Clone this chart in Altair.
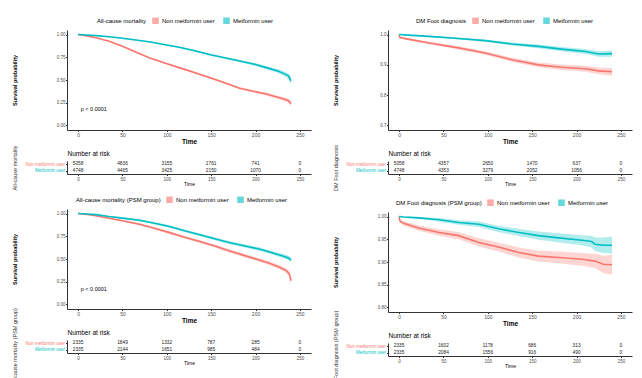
import altair as alt
import pandas as pd

GROUPS = ["Non metformin user", "Metformin user"]
COLORS = ["#F8766D", "#00BFC4"]
TICKS = [0, 50, 100, 150, 200, 250]
FONT = "Liberation Sans"
W = 244
H = 100
RH = 13
XDOM = [-12.5, 262.5]

# ---- All-cause mortality ----
ac_t = [0, 10, 20, 35, 50, 65, 80, 100, 114, 130, 148, 165, 182, 200, 212, 225, 232, 237, 240]
ac_non = [1.0, 0.985, 0.965, 0.927, 0.87, 0.807, 0.746, 0.68, 0.636, 0.585, 0.528, 0.47, 0.41, 0.37, 0.346, 0.31, 0.29, 0.273, 0.24]
ac_non_lo = [1.0, 0.982, 0.961, 0.922, 0.864, 0.800, 0.738, 0.671, 0.627, 0.575, 0.517, 0.458, 0.397, 0.356, 0.330, 0.292, 0.270, 0.250, 0.212]
ac_non_hi = [1.0, 0.988, 0.969, 0.932, 0.876, 0.814, 0.754, 0.689, 0.645, 0.595, 0.539, 0.482, 0.423, 0.384, 0.362, 0.328, 0.310, 0.296, 0.268]
ac_met = [1.0, 0.995, 0.988, 0.975, 0.96, 0.94, 0.92, 0.885, 0.86, 0.825, 0.78, 0.745, 0.71, 0.67, 0.636, 0.6, 0.57, 0.545, 0.49]
ac_met_lo = [1.0, 0.993, 0.985, 0.971, 0.955, 0.934, 0.913, 0.877, 0.851, 0.815, 0.769, 0.733, 0.697, 0.655, 0.619, 0.580, 0.545, 0.515, 0.445]
ac_met_hi = [1.0, 0.997, 0.991, 0.979, 0.965, 0.946, 0.927, 0.893, 0.869, 0.835, 0.791, 0.757, 0.723, 0.685, 0.653, 0.620, 0.595, 0.575, 0.535]
ac_risk_non = [5058, 4836, 3155, 1761, 741, 0]
ac_risk_met = [4748, 4465, 3425, 2150, 1070, 0]

# ---- DM Foot diagnosis ----
dm_t = [0, 1, 10, 34, 67, 97, 127, 157, 183, 210, 225, 240]
dm_non = [1.0, 0.99, 0.985, 0.972, 0.956, 0.939, 0.917, 0.90, 0.892, 0.887, 0.88, 0.877]
dm_non_lo = [1.0, 0.987, 0.982, 0.968, 0.951, 0.933, 0.910, 0.892, 0.883, 0.877, 0.869, 0.864]
dm_non_hi = [1.0, 0.993, 0.988, 0.976, 0.961, 0.945, 0.924, 0.908, 0.901, 0.897, 0.891, 0.890]
dm_met = [1.0, 1.0, 0.998, 0.994, 0.987, 0.98, 0.969, 0.961, 0.952, 0.944, 0.936, 0.937]
dm_met_lo = [1.0, 1.0, 0.997, 0.992, 0.984, 0.976, 0.964, 0.955, 0.945, 0.936, 0.927, 0.927]
dm_met_hi = [1.0, 1.0, 0.999, 0.996, 0.990, 0.984, 0.974, 0.967, 0.959, 0.952, 0.945, 0.947]
dm_risk_non = [5058, 4357, 2650, 1470, 637, 0]
dm_risk_met = [4748, 4353, 3279, 2052, 1056, 0]

# ---- All-cause mortality (PSM group) ----
acp_t = [0, 10, 20, 35, 50, 69, 85, 103, 120, 137, 155, 170, 187, 204, 215, 227, 235, 238, 240]
acp_non = [1.0, 0.99, 0.975, 0.949, 0.92, 0.883, 0.84, 0.79, 0.74, 0.693, 0.64, 0.59, 0.54, 0.489, 0.455, 0.41, 0.37, 0.336, 0.26]
acp_non_lo = [1.0, 0.986, 0.969, 0.941, 0.910, 0.871, 0.827, 0.776, 0.725, 0.677, 0.623, 0.572, 0.521, 0.469, 0.434, 0.387, 0.344, 0.306, 0.220]
acp_non_hi = [1.0, 0.994, 0.981, 0.957, 0.930, 0.895, 0.853, 0.804, 0.755, 0.709, 0.657, 0.608, 0.559, 0.509, 0.476, 0.433, 0.396, 0.366, 0.300]
acp_met = [1.0, 0.995, 0.988, 0.967, 0.95, 0.927, 0.895, 0.858, 0.81, 0.767, 0.72, 0.682, 0.645, 0.61, 0.58, 0.544, 0.52, 0.505, 0.489]
acp_met_lo = [1.0, 0.992, 0.983, 0.960, 0.941, 0.916, 0.883, 0.845, 0.796, 0.752, 0.704, 0.665, 0.627, 0.591, 0.560, 0.522, 0.496, 0.479, 0.460]
acp_met_hi = [1.0, 0.998, 0.993, 0.974, 0.959, 0.938, 0.907, 0.871, 0.824, 0.782, 0.736, 0.699, 0.663, 0.629, 0.600, 0.566, 0.544, 0.531, 0.518]
acp_risk_non = [2335, 1849, 1332, 787, 285, 0]
acp_risk_met = [2335, 2144, 1651, 985, 484, 0]

# ---- DM Foot diagnosis (PSM group) ----
dmp_t = [0, 1, 5, 22, 45, 67, 90, 112, 135, 157, 180, 206, 217, 221, 230, 240]
dmp_non = [1.0, 0.99, 0.985, 0.975, 0.965, 0.958, 0.943, 0.933, 0.921, 0.913, 0.91, 0.906, 0.903, 0.902, 0.895, 0.894]
dmp_non_lo = [1.0, 0.986, 0.980, 0.969, 0.958, 0.950, 0.934, 0.923, 0.910, 0.901, 0.897, 0.892, 0.888, 0.886, 0.876, 0.872]
dmp_non_hi = [1.0, 0.994, 0.990, 0.981, 0.972, 0.966, 0.952, 0.943, 0.932, 0.925, 0.923, 0.920, 0.918, 0.918, 0.914, 0.916]
dmp_met = [1.0, 1.0, 0.999, 0.997, 0.993, 0.987, 0.983, 0.973, 0.965, 0.958, 0.953, 0.948, 0.945, 0.939, 0.937, 0.937]
dmp_met_lo = [1.0, 1.0, 0.998, 0.995, 0.989, 0.982, 0.977, 0.966, 0.957, 0.949, 0.943, 0.937, 0.932, 0.924, 0.920, 0.918]
dmp_met_hi = [1.0, 1.0, 1.0, 0.999, 0.997, 0.992, 0.989, 0.980, 0.973, 0.967, 0.963, 0.959, 0.958, 0.954, 0.954, 0.956]
dmp_risk_non = [2335, 1602, 1178, 686, 313, 0]
dmp_risk_met = [2335, 2084, 1556, 916, 490, 0]

AXIS_DARK = "#333333"
LABEL_GRAY = "#4D4D4D"
XSCALE = alt.Scale(domain=XDOM, nice=False, zero=False)


def x_enc(small=False):
    return alt.X(
        "t:Q",
        scale=XSCALE,
        axis=alt.Axis(
            values=TICKS, title="Time",
            titleFontSize=5 if small else 6.5,
            titleFontWeight="normal" if small else "bold",
            titlePadding=1, labelFontSize=4.5 if small else 5,
            labelPadding=0.5, tickSize=1.5, labelFlush=False, labelOverlap=False,
        ),
    )


def y_axis(yvals, yfmt):
    return alt.Axis(
        values=yvals, format=yfmt, title="Survival probability",
        titleFontSize=5.5, titleFontWeight="bold", titlePadding=2,
        labelFontSize=4.5, labelPadding=0.5, tickSize=1.5,
        minExtent=48, maxExtent=48, labelOverlap=False, labelFlush=False,
    )


def make_legend(title, legend_x):
    return alt.Legend(
        title=title, orient="none", legendX=legend_x, legendY=-13,
        direction="horizontal", titleOrient="left", titleFontSize=6,
        titleFontWeight="normal", titleColor="#000000", titlePadding=5,
        labelFontSize=6, labelColor="#000000", symbolType="square",
        symbolSize=28, symbolStrokeWidth=1.2, symbolOpacity=0.6, columnPadding=6,
        labelOffset=3, padding=0,
    )


def surv_panel(title, t, non, non_lo, non_hi, met, met_lo, met_hi,
               ydom, yvals, yfmt, legend_x, pval_y=None):
    rows = []
    for g, s, lo, hi in ((GROUPS[0], non, non_lo, non_hi), (GROUPS[1], met, met_lo, met_hi)):
        for ti, si, li, hii in zip(t, s, lo, hi):
            rows.append({"group": g, "t": ti, "surv": si, "lo": li, "hi": hii})
    df = pd.DataFrame(rows)
    yscale = alt.Scale(domain=ydom, nice=False, zero=False)
    cscale = alt.Scale(domain=GROUPS, range=COLORS)
    leg = make_legend(title, legend_x)
    band = alt.Chart(df).mark_area(opacity=0.3, clip=True).encode(
        x=x_enc(),
        y=alt.Y("lo:Q", scale=yscale, axis=y_axis(yvals, yfmt)),
        y2="hi:Q",
        color=alt.Color("group:N", scale=cscale, legend=leg),
    )
    line = alt.Chart(df).mark_line(strokeWidth=1.6, clip=True).encode(
        x=x_enc(),
        y=alt.Y("surv:Q", scale=yscale, axis=y_axis(yvals, yfmt)),
        color=alt.Color("group:N", scale=cscale, legend=leg),
    )
    layers = [band, line]
    if pval_y is not None:
        pdf = pd.DataFrame({"t": [3], "surv": [pval_y], "label": ["p < 0.0001"]})
        ptxt = alt.Chart(pdf).mark_text(align="left", fontSize=5.5, color="#000000").encode(
            x=x_enc(),
            y=alt.Y("surv:Q", scale=yscale, axis=y_axis(yvals, yfmt)),
            text="label:N",
        )
        layers.append(ptxt)
    return alt.layer(*layers).properties(width=W, height=H)


def risk_panel(ytitle, non_n, met_n):
    rows = []
    for g, ns in ((GROUPS[0], non_n), (GROUPS[1], met_n)):
        for ti, n in zip(TICKS, ns):
            rows.append({"group": g, "t": ti, "n": n})
    df = pd.DataFrame(rows)
    color_expr = "datum.value == 'Non metformin user' ? '#F8766D' : '#00BFC4'"
    table = alt.Chart(df).mark_text(fontSize=4.8, color="#222222").encode(
        x=x_enc(small=True),
        y=alt.Y(
            "group:N", sort=GROUPS, scale=alt.Scale(domain=GROUPS),
            axis=alt.Axis(
                title=ytitle, titleFontSize=5.5, titleFontWeight="normal",
                titleColor="#333333", titlePadding=2, labelFontSize=4.5,
                labelColor={"expr": color_expr}, labelPadding=1, tickSize=1.5,
                minExtent=48, maxExtent=48,
            ),
        ),
        text="n:Q",
    )
    head = alt.Chart(df).mark_point(opacity=0).encode(
        x=alt.X(
            "t:Q", scale=XSCALE,
            axis=alt.Axis(
                orient="top", title="Number at risk", labels=False, ticks=False,
                domain=False, titleAnchor="start", titleFontSize=6.5,
                titleFontWeight="normal", titleColor="#000000", titlePadding=5,
                minExtent=0, maxExtent=0,
            ),
        ),
    )
    return alt.layer(table, head).resolve_axis(x="independent").properties(width=W, height=RH)


def panel(surv, risk):
    return alt.vconcat(surv, risk, spacing=31, bounds="flush").resolve_scale(
        color="independent").resolve_legend(color="independent")


p_ac = panel(
    surv_panel("All-cause mortality", ac_t, ac_non, ac_non_lo, ac_non_hi, ac_met, ac_met_lo, ac_met_hi,
               [-0.05, 1.05], [0, 0.25, 0.5, 0.75, 1.0], ".2f", 30, pval_y=0.18),
    risk_panel("All-cause mortality", ac_risk_non, ac_risk_met),
)
p_dm = panel(
    surv_panel("DM Foot diagnosis", dm_t, dm_non, dm_non_lo, dm_non_hi, dm_met, dm_met_lo, dm_met_hi,
               [0.685, 1.015], [0.7, 0.8, 0.9, 1.0], ".1f", 28),
    risk_panel("DM Foot diagnosis", dm_risk_non, dm_risk_met),
)
p_acp = panel(
    surv_panel("All-cause mortality (PSM group)", acp_t, acp_non, acp_non_lo, acp_non_hi, acp_met, acp_met_lo,
               acp_met_hi, [-0.05, 1.05], [0, 0.25, 0.5, 0.75, 1.0], ".2f", 9, pval_y=0.17),
    risk_panel("All-cause mortality (PSM group)", acp_risk_non, acp_risk_met),
)
p_dmp = panel(
    surv_panel("DM Foot diagnosis (PSM group)", dmp_t, dmp_non, dmp_non_lo, dmp_non_hi, dmp_met, dmp_met_lo,
               dmp_met_hi, [0.79, 1.01], [0.8, 0.85, 0.9, 0.95, 1.0], ".2f", 8),
    risk_panel("DM Foot diagnosis (PSM group)", dmp_risk_non, dmp_risk_met),
)

left = alt.vconcat(p_ac, p_acp, spacing=6).resolve_scale(
    color="independent").resolve_legend(color="independent")
right = alt.vconcat(p_dm, p_dmp, spacing=8).resolve_scale(
    color="independent").resolve_legend(color="independent")

chart = alt.hconcat(left, right, spacing=22).resolve_scale(color="independent").resolve_legend(
    color="independent"
).properties(
    padding={"left": 4, "top": 9, "right": 2, "bottom": 2},
    background="white",
).configure(font=FONT).configure_axis(
    grid=False, domainColor=AXIS_DARK, tickColor=AXIS_DARK, labelColor=LABEL_GRAY,
    titleColor="#000000", domainWidth=1,
).configure_view(stroke=None)

chart.save("out.html", embed_options={"renderer": "svg", "actions": False})
